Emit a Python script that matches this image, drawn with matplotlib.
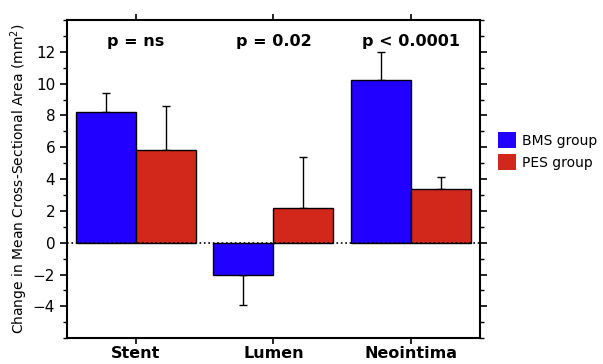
import matplotlib
matplotlib.use('Agg')
import matplotlib.pyplot as plt
from matplotlib.patches import Patch
import numpy as np

plt.rcParams['font.family'] = ['DejaVu Sans']

categories = ['Stent', 'Lumen', 'Neointima']
bms = [8.2, -2.0, 10.2]
bms_err = [1.2, 1.9, 1.8]
pes = [5.8, 2.2, 3.4]
pes_err = [2.8, 3.2, 0.7]
pvals = ['p = ns', 'p = 0.02', 'p < 0.0001']

blue = '#2200ff'
red = '#d2281c'

fig = plt.figure(figsize=(6.03, 3.64), dpi=100)
ax = fig.add_axes([0.111, 0.071, 0.685, 0.874])

x = np.arange(len(categories))
w = 0.436

# one-sided error bars, pointing away from zero
def one_side(vals, errs):
	lo = [e if v < 0 else 0 for v, e in zip(vals, errs)]
	hi = [0 if v < 0 else e for v, e in zip(vals, errs)]
	return [lo, hi]

ax.bar(x - w/2, bms, w, color=blue, edgecolor='black', linewidth=1.0, zorder=2)
ax.bar(x + w/2, pes, w, color=red, edgecolor='black', linewidth=1.0, zorder=2)
ax.errorbar(x - w/2, bms, yerr=one_side(bms, bms_err), fmt='none', ecolor='black',
	elinewidth=1.0, capsize=3, capthick=1.0, zorder=1)
ax.errorbar(x + w/2, pes, yerr=one_side(pes, pes_err), fmt='none', ecolor='black',
	elinewidth=1.0, capsize=3, capthick=1.0, zorder=1)

ax.axhline(0, color='black', linestyle=':', linewidth=1.2, zorder=3)

for i, p in enumerate(pvals):
	ax.text(x[i], 12.65, p, ha='center', va='center', fontsize=11.5, fontweight='bold')

ax.set_xlim(-0.5, 2.5)
ax.set_ylim(-6, 14)
ax.set_xticks(x)
ax.set_xticklabels(categories, fontsize=11.5, fontweight='bold')
ax.set_yticks(np.arange(-4, 13, 2))
ax.set_yticklabels([str(v).replace('-', '\u2212') for v in range(-4, 13, 2)], fontsize=11)
ax.set_yticks(np.arange(-6, 15, 1), minor=True)
ax.tick_params(axis='y', which='major', length=5, width=1.2, right=True, direction='out')
ax.tick_params(axis='y', which='minor', length=3, width=1.0, right=True, direction='out')
ax.tick_params(axis='x', which='major', length=4, width=1.2, top=True, direction='out', pad=2)
for s in ax.spines.values():
	s.set_linewidth(1.5)

ax.set_ylabel('Change in Mean Cross-Sectional Area (mm$^2$)', fontsize=10, labelpad=2)

handles = [Patch(facecolor=blue, edgecolor='none', label='BMS group'),
	Patch(facecolor=red, edgecolor='none', label='PES group')]
fig.legend(handles=handles, loc='center left', bbox_to_anchor=(0.805, 0.585), frameon=False,
	fontsize=10, handlelength=1.3, handleheight=1.4, handletextpad=0.4, labelspacing=0.45)

plt.savefig('out.png', dpi=100)
